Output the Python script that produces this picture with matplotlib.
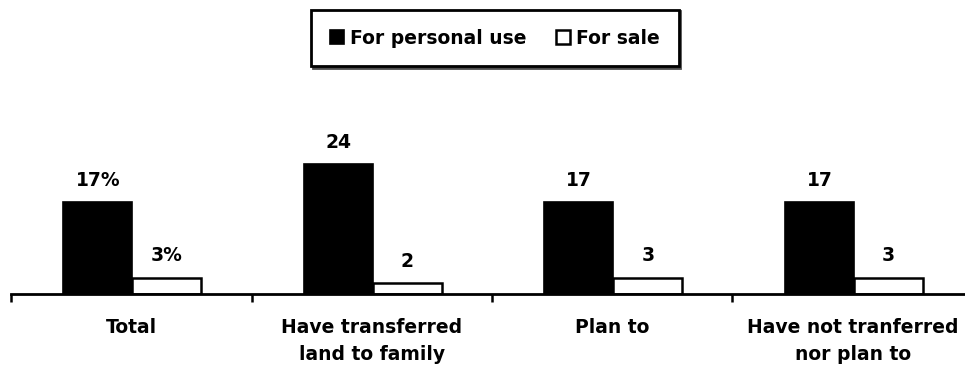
import numpy as np
import matplotlib
matplotlib.use('Agg')
import matplotlib.pyplot as plt

categories = ["Total", "Have transferred\nland to family", "Plan to",
              "Have not tranferred\nnor plan to"]
personal_use = [17, 24, 17, 17]
for_sale = [3, 2, 3, 3]
personal_labels = ["17%", "24", "17", "17"]
sale_labels = ["3%", "2", "3", "3"]

plt.rcParams['font.family'] = ['DejaVu Sans']
plt.rcParams['font.weight'] = 'bold'
FS = 13.5

fig = plt.figure(figsize=(9.65, 3.69), dpi=100)
# axes spans from the first tick to just past the right edge
ax = fig.add_axes([11 / 965, 75 / 369, 962 / 965, 184 / 369])

x = np.arange(len(categories))
w = 0.287
b1 = ax.bar(x - w / 2 + 0.005, personal_use, w, color="black", edgecolor="black",
            linewidth=1.2, label="For personal use")
b2 = ax.bar(x + w / 2 + 0.005, for_sale, w, color="white", edgecolor="black",
            linewidth=1.8, label="For sale")

# value labels sit a fixed distance above each bar
for bars, labels in ((b1, personal_labels), (b2, sale_labels)):
    for rect, txt in zip(bars, labels):
        ax.annotate(txt, (rect.get_x() + rect.get_width() / 2, rect.get_height()),
                    xytext=(0, 22), textcoords="offset pixels", ha="center",
                    va="center", fontsize=FS, fontweight="bold")

ax.set_xlim(-0.5, 3.5)
ax.set_ylim(0, 34)
ax.set_yticks([])
for s in ["top", "right", "left"]:
    ax.spines[s].set_visible(False)
ax.spines["bottom"].set_linewidth(2)

ax.set_xticks(np.arange(-0.5, 3.5, 1.0))
ax.set_xticklabels([])
ax.tick_params(axis="x", direction="out", length=6, width=1.8)
for i, name in enumerate(categories):
    ax.annotate(name, (i, 0), xytext=(0, -24), textcoords="offset pixels",
                ha="center", va="top", fontsize=FS, fontweight="bold",
                linespacing=1.55)

leg = fig.legend(loc="center", bbox_to_anchor=(495 / 965, 1 - 38 / 369),
                 ncol=2, frameon=True, fancybox=False,
                 handlelength=0.75, handleheight=0.75, handletextpad=0.3,
                 columnspacing=1.6, borderpad=1.0, borderaxespad=0,
                 edgecolor="black", prop={"weight": "bold", "size": FS},
                 shadow={"color": "0.3", "ox": 1, "oy": -1, "alpha": 1})
leg.get_frame().set_linewidth(2)

fig.savefig("out.png", dpi=100)
